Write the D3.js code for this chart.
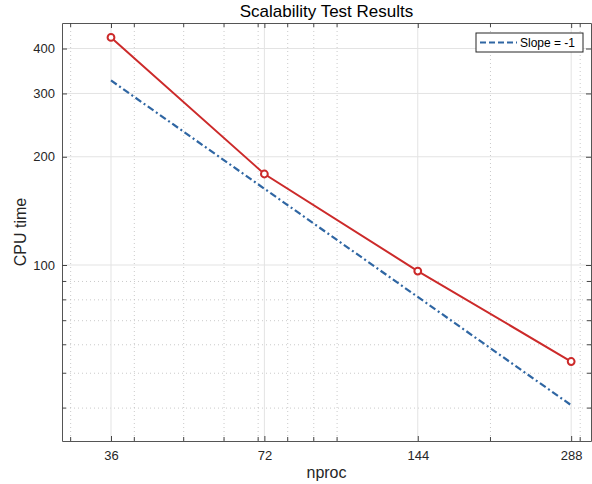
<!DOCTYPE html>
<html>
<head>
<meta charset="utf-8">
<script src="https://cdn.jsdelivr.net/npm/d3@7"></script>
<style>
  html, body { margin: 0; padding: 0; background: #fff; }
  svg { display: block; font-family: "Liberation Sans", Arial, sans-serif; }
</style>
</head>
<body>
<div id="chart"></div>
<script>
// data (log-log plot)
const nproc = [36, 72, 144, 288];
const cpuTime = [429.5, 179.1, 96.2, 53.9];
const slopeRef = [326, 163, 81.5, 40.75];

const xTicks = [36, 72, 144, 288];
const yTicks = [100, 200, 300, 400];
const xMinor = [30, 40, 50, 60, 70, 80, 90, 100, 200, 300];
const yMinor = [40, 50, 60, 70, 80, 90];

const width = 592;
const height = 484;
const margin = { top: 23, right: 1, bottom: 43, left: 62 };
const textColor = "#262626";
const red = "#cc2a2a";
const blue = "#2f66a3";

const svg = d3.select("#chart")
  .append("svg")
  .attr("width", width)
  .attr("height", height);

const x = d3.scaleLog()
  .domain([28.85, 315])
  .range([margin.left, width - margin.right]);

const y = d3.scaleLog()
  .domain([32.4, 471])
  .range([height - margin.bottom, margin.top]);

const x0 = x.range()[0], x1 = x.range()[1];
const y0 = y.range()[0], y1 = y.range()[1];

// grid
const grid = svg.append("g");
grid.selectAll(".xminor").data(xMinor).enter().append("line")
  .attr("x1", d => x(d)).attr("x2", d => x(d))
  .attr("y1", y1).attr("y2", y0)
  .attr("stroke", "#bdbdbd").attr("stroke-width", 0.8)
  .attr("stroke-dasharray", "1,3");
grid.selectAll(".yminor").data(yMinor).enter().append("line")
  .attr("x1", x0).attr("x2", x1)
  .attr("y1", d => y(d)).attr("y2", d => y(d))
  .attr("stroke", "#bdbdbd").attr("stroke-width", 0.8)
  .attr("stroke-dasharray", "1,3");
grid.selectAll(".xmajor").data(xTicks).enter().append("line")
  .attr("x1", d => x(d)).attr("x2", d => x(d))
  .attr("y1", y1).attr("y2", y0)
  .attr("stroke", "#e3e3e3").attr("stroke-width", 1);
grid.selectAll(".ymajor").data(yTicks).enter().append("line")
  .attr("x1", x0).attr("x2", x1)
  .attr("y1", d => y(d)).attr("y2", d => y(d))
  .attr("stroke", "#e3e3e3").attr("stroke-width", 1);

// axes (ticks inward on all four sides)
const xAxisB = d3.axisBottom(x).tickValues(xTicks).tickFormat(d3.format("d")).tickSizeInner(-5).tickSizeOuter(0).tickPadding(10);
const xAxisT = d3.axisTop(x).tickValues(xTicks).tickFormat("").tickSizeInner(-5).tickSizeOuter(0);
const yAxisL = d3.axisLeft(y).tickValues(yTicks).tickFormat(d3.format("d")).tickSizeInner(-5).tickSizeOuter(0).tickPadding(7);
const yAxisR = d3.axisRight(y).tickValues(yTicks).tickFormat("").tickSizeInner(-5).tickSizeOuter(0);

function styleAxis(g) {
  g.select(".domain").attr("stroke", "#555").attr("stroke-width", 1);
  g.selectAll(".tick line").attr("stroke", "#444");
  g.selectAll(".tick text").attr("fill", textColor).style("font-size", "13px");
}

svg.append("g").attr("transform", `translate(0,${y0})`).call(xAxisB).call(styleAxis);
svg.append("g").attr("transform", `translate(0,${y1})`).call(xAxisT).call(styleAxis);
svg.append("g").attr("transform", `translate(${x0},0)`).call(yAxisL).call(styleAxis);
svg.append("g").attr("transform", `translate(${x1},0)`).call(yAxisR).call(styleAxis);

// minor ticks
const minorT = svg.append("g").attr("stroke", "#444");
xMinor.forEach(d => {
  minorT.append("line").attr("x1", x(d)).attr("x2", x(d)).attr("y1", y0).attr("y2", y0 - 4);
  minorT.append("line").attr("x1", x(d)).attr("x2", x(d)).attr("y1", y1).attr("y2", y1 + 4);
});
yMinor.forEach(d => {
  minorT.append("line").attr("x1", x0).attr("x2", x0 + 4).attr("y1", y(d)).attr("y2", y(d));
  minorT.append("line").attr("x1", x1).attr("x2", x1 - 4).attr("y1", y(d)).attr("y2", y(d));
});

// lines
const line = d3.line().x(d => x(d[0])).y(d => y(d[1]));

svg.append("path")
  .datum(d3.zip(nproc, slopeRef))
  .attr("d", line)
  .attr("fill", "none")
  .attr("stroke", blue)
  .attr("stroke-width", 2.2)
  .attr("stroke-dasharray", "7,3,2,3");

svg.append("path")
  .datum(d3.zip(nproc, cpuTime))
  .attr("d", line)
  .attr("fill", "none")
  .attr("stroke", red)
  .attr("stroke-width", 2);

svg.selectAll(".pt")
  .data(d3.zip(nproc, cpuTime))
  .enter()
  .append("circle")
  .attr("cx", d => x(d[0]))
  .attr("cy", d => y(d[1]))
  .attr("r", 3.4)
  .attr("fill", "#fff")
  .attr("stroke", red)
  .attr("stroke-width", 2);

// title and labels
svg.append("text")
  .attr("x", (x0 + x1) / 2).attr("y", 17)
  .attr("text-anchor", "middle")
  .attr("fill", "#000")
  .style("font-size", "17px")
  .text("Scalability Test Results");

svg.append("text")
  .attr("x", (x0 + x1) / 2).attr("y", 478)
  .attr("text-anchor", "middle")
  .attr("fill", textColor)
  .style("font-size", "16px")
  .text("nproc");

svg.append("text")
  .attr("transform", `translate(26,${(y0 + y1) / 2}) rotate(-90)`)
  .attr("text-anchor", "middle")
  .attr("fill", textColor)
  .style("font-size", "16px")
  .text("CPU time");

// legend
const lg = svg.append("g").attr("transform", "translate(476,33)");
lg.append("rect")
  .attr("width", 107).attr("height", 19)
  .attr("fill", "#fff").attr("stroke", "#262626").attr("stroke-width", 1);
lg.append("line")
  .attr("x1", 4).attr("x2", 41).attr("y1", 9.5).attr("y2", 9.5)
  .attr("stroke", blue).attr("stroke-width", 2.2)
  .attr("stroke-dasharray", "6,3");
lg.append("text")
  .attr("x", 44).attr("y", 13.8)
  .attr("fill", "#000")
  .style("font-size", "12px")
  .text("Slope = -1");
</script>
</body>
</html>
